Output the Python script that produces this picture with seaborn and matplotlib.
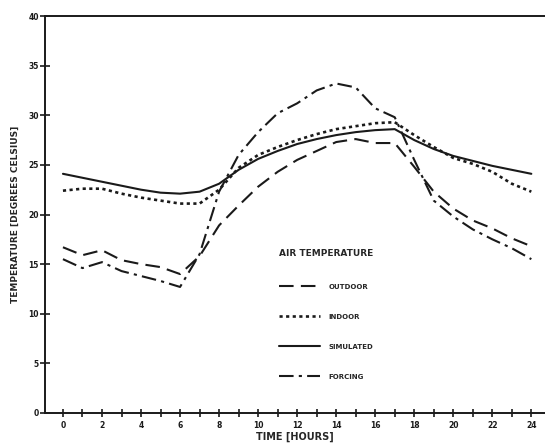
import matplotlib
matplotlib.use("Agg")
import matplotlib.pyplot as plt
import seaborn as sns
import pandas as pd
import numpy as np
from matplotlib.lines import Line2D
from matplotlib.ticker import MultipleLocator

hours = list(range(0, 25))
outdoor = [16.7, 15.9, 16.4, 15.4, 15.0, 14.7, 14.0, 15.8, 18.9, 20.9, 22.8, 24.3, 25.5,
           26.4, 27.3, 27.6, 27.2, 27.2, 24.8, 22.3, 20.6, 19.4, 18.6, 17.6, 16.8]
indoor = [22.4, 22.6, 22.6, 22.1, 21.7, 21.4, 21.1, 21.1, 22.5, 24.7, 26.0, 26.8, 27.5,
          28.1, 28.6, 28.9, 29.2, 29.3, 28.0, 26.8, 25.7, 25.1, 24.3, 23.1, 22.3]
simulated = [24.1, 23.7, 23.3, 22.9, 22.5, 22.2, 22.1, 22.3, 23.1, 24.5, 25.6, 26.4, 27.1,
             27.6, 28.0, 28.3, 28.5, 28.6, 27.5, 26.6, 25.9, 25.4, 24.9, 24.5, 24.1]
forcing = [15.5, 14.6, 15.2, 14.3, 13.8, 13.3, 12.7, 16.0, 22.3, 26.0, 28.3, 30.2, 31.2,
           32.5, 33.2, 32.8, 30.7, 29.8, 25.5, 21.4, 19.8, 18.5, 17.5, 16.6, 15.5]

series_names = ["OUTDOOR", "INDOOR", "SIMULATED", "FORCING"]
x_ticks = list(range(0, 25, 2))
y_ticks = list(range(0, 41, 5))

sns.set_style("ticks")
plt.rcParams["font.family"] = ["DejaVu Sans"]

fig = plt.figure(figsize=(5.45, 4.46), dpi=100)
ax = fig.add_axes([45 / 545, 1 - 413 / 446, 500 / 545, 397 / 446])

dash_styles = {
    "OUTDOOR": (0, (7, 3.5)),
    "INDOOR": (0, (1.2, 1.3)),
    "SIMULATED": "-",
    "FORCING": (0, (7, 2.5, 1.5, 2.5)),
}
data = {"OUTDOOR": outdoor, "INDOOR": indoor, "SIMULATED": simulated, "FORCING": forcing}

handles = []
for name in series_names:
    df = pd.DataFrame({"hour": hours, "temp": data[name]})
    lw = 1.5 if name != "INDOOR" else 1.9
    sns.lineplot(data=df, x="hour", y="temp", ax=ax, color="#1a1a1a", linewidth=lw)
    ln = ax.lines[-1]
    ln.set_linestyle(dash_styles[name])
    handles.append(Line2D([], [], color="#1a1a1a", linestyle=dash_styles[name], linewidth=lw))

ax.set_xlim(-0.92, 24.7)
ax.set_ylim(0, 40)
ax.set_xticks(x_ticks)
ax.xaxis.set_minor_locator(MultipleLocator(1))
ax.set_yticks(y_ticks)
ax.tick_params(axis="both", which="both", direction="inout", width=1.2, colors="#1a1a1a")
ax.tick_params(axis="x", which="major", length=6, pad=3)
ax.tick_params(axis="x", which="minor", length=6)
ax.tick_params(axis="y", which="major", length=7, pad=1)
for lab in ax.get_xticklabels() + ax.get_yticklabels():
    lab.set_fontsize(5.5)
    lab.set_fontweight("bold")

for side in ["left", "bottom", "top"]:
    ax.spines[side].set_visible(True)
    ax.spines[side].set_linewidth(1.4)
    ax.spines[side].set_color("#1a1a1a")
ax.spines["right"].set_visible(False)

ax.set_xlabel("TIME [HOURS]", fontsize=7, fontweight="bold", labelpad=1)
ax.set_ylabel("TEMPERATURE [DEGREES CELSIUS]", fontsize=6.5, fontweight="bold", labelpad=6)

leg = ax.legend(handles, series_names, loc="upper left", bbox_to_anchor=(0.455, 0.43),
                frameon=False, title="AIR TEMPERATURE", alignment="left",
                handlelength=6.0, labelspacing=3.45, handletextpad=1.2,
                prop={"size": 5, "weight": "bold"},
                title_fontproperties={"size": 6.5, "weight": "bold"})
leg._legend_box.sep = 19

fig.savefig("out.png", dpi=100, facecolor="white")
